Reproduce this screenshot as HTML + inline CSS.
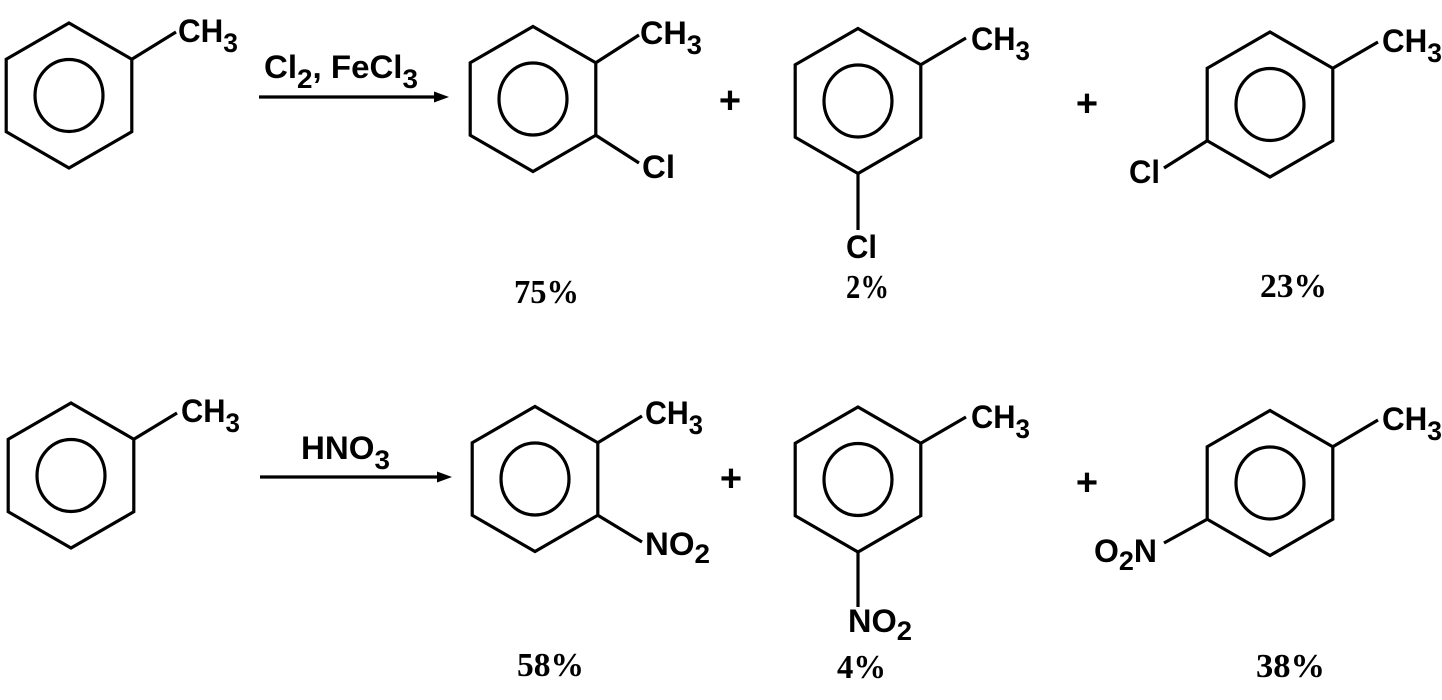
<!DOCTYPE html>
<html><head><meta charset="utf-8"><style>
html,body{margin:0;padding:0;background:#fff;}
svg{display:block}
.t{font-family:"Liberation Sans",Arial,sans-serif;font-weight:bold;font-size:32px;fill:#000}
.p{font-family:"Liberation Serif","Times New Roman",serif;font-weight:bold;font-size:34px;fill:#000}
</style></head><body>
<svg width="1442" height="700" viewBox="0 0 1442 700" xmlns="http://www.w3.org/2000/svg">
<defs>
<g id="bz" fill="none" stroke="#000" stroke-width="3.2">
<polygon points="0,-72.5 62.8,-36.25 62.8,36.25 0,72.5 -62.8,36.25 -62.8,-36.25"/>
<ellipse cx="0" cy="0" rx="34" ry="36"/>
</g>
</defs>
<g stroke="#000" stroke-width="3.2" fill="none">
<use href="#bz" x="69" y="95.5"/>
<line x1="131.8" y1="59.25" x2="176" y2="32"/>
<use href="#bz" x="533" y="99"/>
<line x1="595.8" y1="62.75" x2="639" y2="35"/>
<line x1="595.8" y1="135.25" x2="639" y2="163"/>
<use href="#bz" x="858" y="101"/>
<line x1="920.8" y1="64.75" x2="966" y2="38"/>
<line x1="858" y1="173.5" x2="858" y2="230"/>
<use href="#bz" x="1270" y="104.5"/>
<line x1="1332.8" y1="68.25" x2="1378" y2="42"/>
<line x1="1207.2" y1="140.75" x2="1164" y2="168"/>
<line x1="259" y1="97" x2="438" y2="97"/>
<use href="#bz" x="71" y="475.5"/>
<line x1="133.8" y1="439.25" x2="177" y2="413"/>
<use href="#bz" x="535" y="479"/>
<line x1="597.8" y1="442.75" x2="642" y2="416"/>
<line x1="597.8" y1="515.25" x2="642" y2="542"/>
<use href="#bz" x="858" y="479.5"/>
<line x1="920.8" y1="443.25" x2="966" y2="417"/>
<line x1="858" y1="552" x2="858" y2="607"/>
<use href="#bz" x="1270" y="483"/>
<line x1="1332.8" y1="446.75" x2="1378" y2="420"/>
<line x1="1207.2" y1="519.25" x2="1164" y2="543"/>
<line x1="260" y1="477" x2="440" y2="477"/>
</g>
<polygon points="449,97 434,91.5 434,102.5" fill="#000"/>
<polygon points="452,477 437,471.5 437,482.5" fill="#000"/>
<g class="t" style="font-size:38px" text-anchor="middle">
<text x="730" y="113">+</text>
<text x="1087" y="116">+</text>
<text x="731" y="491">+</text>
<text x="1087" y="495">+</text>
</g>
<text class="t" x="178" y="42" textLength="60" lengthAdjust="spacingAndGlyphs">CH<tspan font-size="27" dy="10">3</tspan></text>
<text class="t" x="264" y="78" textLength="154" lengthAdjust="spacingAndGlyphs">Cl<tspan font-size="27" dy="10">2</tspan><tspan dy="-10">, FeCl</tspan><tspan font-size="27" dy="10">3</tspan></text>
<text class="t" x="640" y="44" textLength="62" lengthAdjust="spacingAndGlyphs">CH<tspan font-size="27" dy="10">3</tspan></text>
<text class="t" x="642" y="178" textLength="33" lengthAdjust="spacingAndGlyphs">Cl</text>
<text class="t" x="971" y="50" textLength="59" lengthAdjust="spacingAndGlyphs">CH<tspan font-size="27" dy="10">3</tspan></text>
<text class="t" x="846" y="258" textLength="31" lengthAdjust="spacingAndGlyphs">Cl</text>
<text class="t" x="1382" y="52" textLength="60" lengthAdjust="spacingAndGlyphs">CH<tspan font-size="27" dy="10">3</tspan></text>
<text class="t" x="1129" y="183" textLength="31" lengthAdjust="spacingAndGlyphs">Cl</text>
<text class="p" x="514" y="303" textLength="65" lengthAdjust="spacingAndGlyphs">75%</text>
<text class="p" x="846" y="298" textLength="43" lengthAdjust="spacingAndGlyphs">2%</text>
<text class="p" x="1260" y="297" textLength="67" lengthAdjust="spacingAndGlyphs">23%</text>
<text class="t" x="181" y="422" textLength="59" lengthAdjust="spacingAndGlyphs">CH<tspan font-size="27" dy="10">3</tspan></text>
<text class="t" x="301" y="459" textLength="89" lengthAdjust="spacingAndGlyphs">HNO<tspan font-size="27" dy="10">3</tspan></text>
<text class="t" x="645" y="424" textLength="58" lengthAdjust="spacingAndGlyphs">CH<tspan font-size="27" dy="10">3</tspan></text>
<text class="t" x="645" y="555" textLength="65" lengthAdjust="spacingAndGlyphs">NO<tspan font-size="27" dy="8">2</tspan></text>
<text class="t" x="971" y="428" textLength="59" lengthAdjust="spacingAndGlyphs">CH<tspan font-size="27" dy="10">3</tspan></text>
<text class="t" x="848" y="632" textLength="64" lengthAdjust="spacingAndGlyphs">NO<tspan font-size="27" dy="8">2</tspan></text>
<text class="t" x="1382" y="430" textLength="60" lengthAdjust="spacingAndGlyphs">CH<tspan font-size="27" dy="10">3</tspan></text>
<text class="t" x="1094" y="562" textLength="63" lengthAdjust="spacingAndGlyphs">O<tspan font-size="27" dy="8">2</tspan><tspan dy="-8">N</tspan></text>
<text class="p" x="517" y="676" textLength="67" lengthAdjust="spacingAndGlyphs">58%</text>
<text class="p" x="837" y="678" textLength="49" lengthAdjust="spacingAndGlyphs">4%</text>
<text class="p" x="1256" y="677" textLength="69" lengthAdjust="spacingAndGlyphs">38%</text>
</svg>
</body></html>
